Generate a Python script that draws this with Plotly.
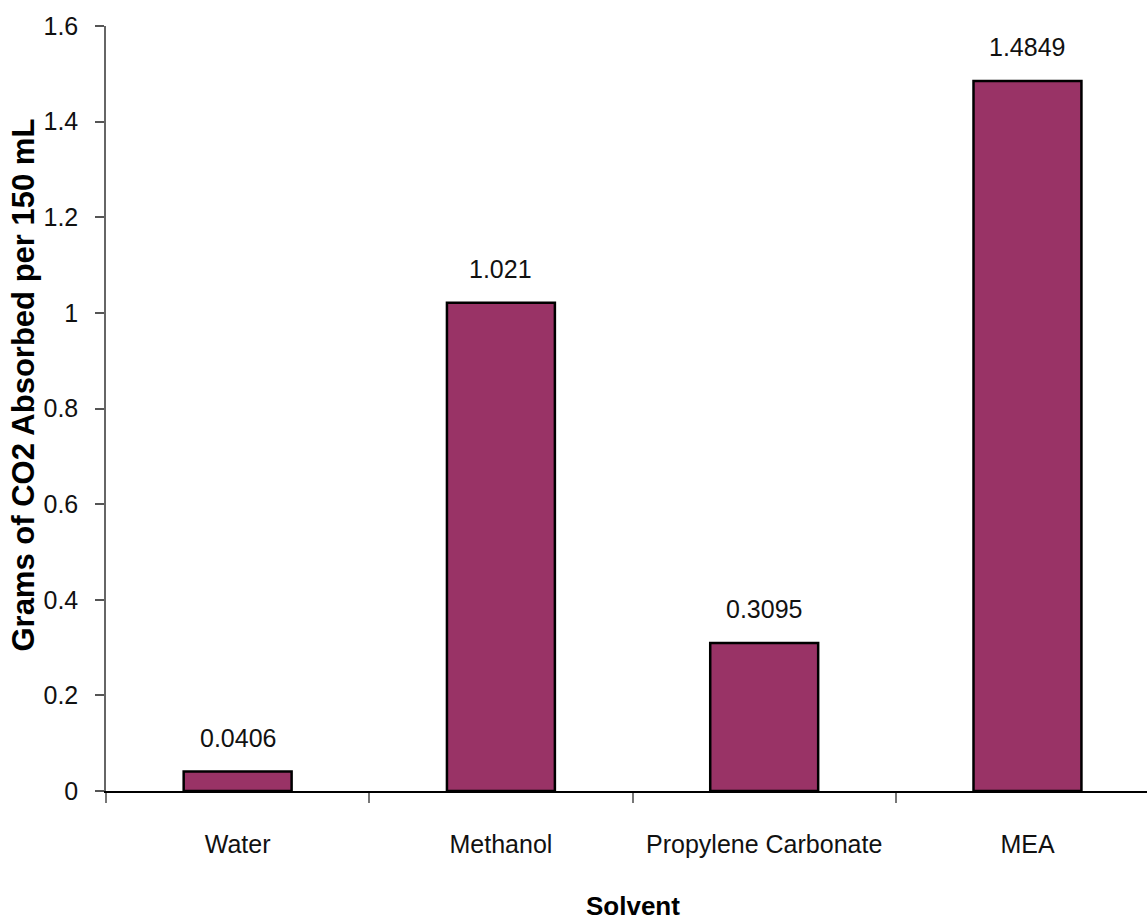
import plotly.graph_objects as go

# CO2 absorption per solvent
solvents = ["Water", "Methanol", "Propylene Carbonate", "MEA"]
grams_co2 = [0.0406, 1.021, 0.3095, 1.4849]
y_ticks = [0, 0.2, 0.4, 0.6, 0.8, 1, 1.2, 1.4, 1.6]
y_tick_text = ["0", "0.2", "0.4", "0.6", "0.8", "1", "1.2", "1.4", "1.6"]

sans = "Liberation Sans, Arial, sans-serif"

fig = go.Figure(
    go.Bar(
        x=solvents,
        y=grams_co2,
        width=0.41,
        marker=dict(color="#993366", line=dict(color="#000000", width=2.5)),
        hoverinfo="x+y",
    )
)

# value labels above each bar
for name, val in zip(solvents, grams_co2):
    fig.add_annotation(
        x=name, y=val, xref="x", yref="y",
        text=str(val), showarrow=False,
        yanchor="bottom", yshift=18,
        font=dict(family=sans, size=25, color="#111111"),
    )

# axis titles
fig.add_annotation(
    x=1.5, y=0, xref="x", yref="paper",
    text="<b>Solvent</b>", showarrow=False,
    yanchor="middle", yshift=-115,
    font=dict(family=sans, size=26, color="#000000"),
)
fig.add_annotation(
    x=0, y=0.53, xref="paper", yref="paper",
    xanchor="center", xshift=-82,
    text="<b>Grams of CO2 Absorbed per 150 mL</b>", showarrow=False,
    textangle=-90,
    font=dict(family=sans, size=31, color="#000000"),
)

fig.update_layout(
    width=1147, height=921,
    margin=dict(l=106, r=0, t=26, b=130, autoexpand=False),
    paper_bgcolor="white", plot_bgcolor="white",
    showlegend=False,
)

fig.update_xaxes(
    type="category",
    range=[-0.5, 3.454],
    automargin=False,
    showline=True, linecolor="#000000", linewidth=2,
    ticks="outside", tickson="boundaries", ticklen=10, tickwidth=1.5, tickcolor="#777777",
    showgrid=False, zeroline=False,
    tickangle=0,
    tickfont=dict(family=sans, size=25, color="#111111"),
    ticklabelstandoff=30,
)

fig.update_yaxes(
    range=[0, 1.6],
    automargin=False,
    tickvals=y_ticks, ticktext=y_tick_text,
    showline=True, linecolor="#666666", linewidth=1.5,
    ticks="outside", ticklen=9, tickwidth=1.5, tickcolor="#555555",
    showgrid=False, zeroline=False,
    tickfont=dict(family=sans, size=25, color="#111111"),
    ticklabelstandoff=12,
)

fig.write_html("out.html")
